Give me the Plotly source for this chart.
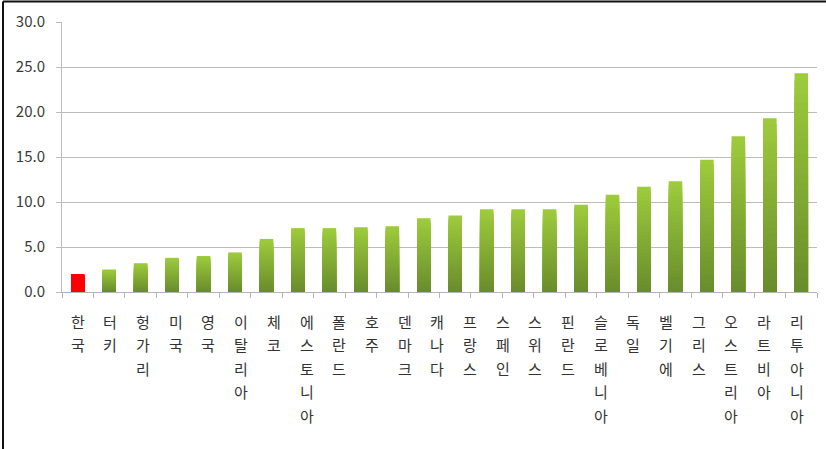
import plotly.graph_objects as go

# Country labels (written vertically, one syllable per line)
countries = ["한국", "터키", "헝가리", "미국", "영국", "이탈리아", "체코", "에스토니아",
             "폴란드", "호주", "덴마크", "캐나다", "프랑스", "스페인", "스위스", "핀란드",
             "슬로베니아", "독일", "벨기에", "그리스", "오스트리아", "라트비아", "리투아니아"]

# Bar values, ascending
values = [2.0, 2.5, 3.2, 3.8, 4.0, 4.4, 5.9, 7.1, 7.1, 7.2, 7.3, 8.2,
          8.5, 9.2, 9.2, 9.2, 9.7, 10.8, 11.7, 12.3, 14.7, 17.3, 19.3, 24.3]

y_ticks = [0, 5, 10, 15, 20, 25, 30]
highlight_index = 0

W, H = 826, 449
ML, MR, MT, MB = 62, 9, 22, 157
FONT = "Noto Sans CJK KR"

TOP_GREEN = (158, 204, 60)
BOTTOM_GREEN = (104, 140, 44)
RED = "#ff0000"
N_LAYERS = 30


def mix(c1, c2, t):
    return "rgb(%d,%d,%d)" % tuple(round(a + (b - a) * t) for a, b in zip(c1, c2))


xs = list(range(len(values)))
fig = go.Figure()

# Vertical gradient: stacked overlay layers, each a shorter, darker copy of the bars
for k in range(N_LAYERS):
    frac = 1 - k / N_LAYERS
    shade = mix(TOP_GREEN, BOTTOM_GREEN, (k + 0.5) / N_LAYERS)
    colors = [RED if i == highlight_index else shade for i in xs]
    fig.add_trace(go.Bar(
        x=xs, y=[v * frac for v in values],
        marker=dict(color=colors, line=dict(width=0)),
        width=0.43, hoverinfo="skip", showlegend=False,
    ))

# Category labels on a secondary axis spanning the same plot width
for i, name in enumerate(countries):
    for row, ch in enumerate(name):
        fig.add_annotation(
            x=i, xref="x2", y=0, yref="paper",
            text=ch, showarrow=False,
            xanchor="center", yanchor="middle",
            yshift=-(29 + row * 23.6),
            font=dict(family=FONT, size=15, color="#333333"),
        )

# Outer frame lines (left and top)
pw = W - ML - MR
ph = H - MT - MB
x_left = (3 - ML) / pw
x_right = (W - ML) / pw
y_top = 1 + (MT - 1.5) / ph
y_bot = -MB / ph
fig.add_shape(type="line", xref="paper", yref="paper",
              x0=x_left, x1=x_left, y0=y_bot, y1=y_top,
              line=dict(color="#111111", width=2))
fig.add_shape(type="line", xref="paper", yref="paper",
              x0=x_left, x1=x_right, y0=y_top, y1=y_top,
              line=dict(color="#111111", width=2))

fig.update_layout(
    width=W, height=H,
    margin=dict(l=ML, r=MR, t=MT, b=MB, pad=0),
    barmode="overlay",
    plot_bgcolor="white", paper_bgcolor="white",
    font=dict(family=FONT, color="#404040"),
    xaxis=dict(
        range=[-0.5, len(values) - 0.5],
        tickmode="array",
        tickvals=[i - 0.5 for i in range(len(values) + 1)],
        showticklabels=False,
        ticks="outside", ticklen=5, tickcolor="#b4b4b4",
        showgrid=False, zeroline=False,
        showline=True, linecolor="#b4b4b4", linewidth=1,
    ),
    xaxis2=dict(
        overlaying="x", range=[-0.481, 22.62],
        visible=False,
    ),
    yaxis=dict(
        range=[0, 30],
        tickmode="array", tickvals=y_ticks,
        ticktext=["%.1f" % t for t in y_ticks],
        ticks="outside", ticklen=5, tickcolor="#bcbcbc",
        ticklabelstandoff=8,
        tickfont=dict(size=15, color="#3a3a3a"),
        showgrid=True, gridcolor="#bcbcbc", gridwidth=1,
        zeroline=False,
        showline=True, linecolor="#bcbcbc", linewidth=1,
    ),
)

fig.write_html("out.html")
